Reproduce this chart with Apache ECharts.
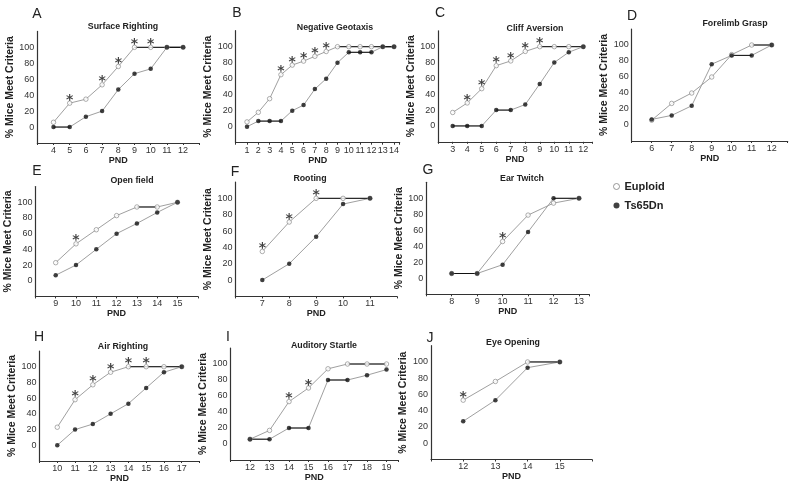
<!DOCTYPE html>
<html>
<head>
<meta charset="utf-8">
<script src="https://cdn.jsdelivr.net/npm/echarts@6/dist/echarts.min.js"></script>
<style>
body { margin: 0; background: #fff; }
#main { width: 800px; height: 489px; }
</style>
</head>
<body>
<div id="main"></div>
<script>
// 数据 (PND, % mice meeting criteria)
var aDays = [4, 5, 6, 7, 8, 9, 10, 11, 12];
var aEuploid = [6, 30, 35, 53, 76, 100, 100, 100, 100];
var aTs65Dn = [0, 0, 13, 20, 47, 67, 73, 100, 100];
var aStars = [5, 7, 8, 9, 10];

var bDays = [1, 2, 3, 4, 5, 6, 7, 8, 9, 10, 11, 12, 13, 14];
var bEuploid = [6, 18, 35, 65, 77, 82, 88, 94, 100, 100, 100, 100, 100, 100];
var bTs65Dn = [0, 7, 7, 7, 20, 27, 47, 60, 80, 93, 93, 93, 100, 100];
var bStars = [4, 5, 6, 7, 8];

var cDays = [3, 4, 5, 6, 7, 8, 9, 10, 11, 12];
var cEuploid = [17, 29, 47, 76, 82, 94, 100, 100, 100, 100];
var cTs65Dn = [0, 0, 0, 20, 20, 27, 53, 80, 93, 100];
var cStars = [4, 5, 6, 7, 8, 9];

var dDays = [6, 7, 8, 9, 10, 11, 12];
var dEuploid = [6, 27, 40, 60, 88, 100, 100];
var dTs65Dn = [7, 12, 24, 76, 87, 87, 100];
var dStars = [];

var eDays = [9, 10, 11, 12, 13, 14, 15];
var eEuploid = [23, 47, 65, 83, 94, 94, 100];
var eTs65Dn = [7, 20, 40, 60, 73, 87, 100];
var eStars = [10];

var fDays = [7, 8, 9, 10, 11];
var fEuploid = [35, 71, 100, 100, 100];
var fTs65Dn = [0, 20, 53, 93, 100];
var fStars = [7, 8, 9];

var gDays = [8, 9, 10, 11, 12, 13];
var gEuploid = [6, 6, 46, 79, 94, 100];
var gTs65Dn = [6, 6, 17, 58, 100, 100];
var gStars = [10];

var hDays = [10, 11, 12, 13, 14, 15, 16, 17];
var hEuploid = [23, 58, 77, 93, 100, 100, 100, 100];
var hTs65Dn = [0, 20, 27, 40, 53, 73, 93, 100];
var hStars = [11, 12, 13, 14, 15];

var iDays = [12, 13, 14, 15, 16, 17, 18, 19];
var iEuploid = [6, 17, 53, 70, 94, 100, 100, 100];
var iTs65Dn = [6, 6, 20, 20, 80, 80, 86, 93];
var iStars = [14, 15];

var jDays = [12, 13, 14, 15];
var jEuploid = [53, 76, 100, 100];
var jTs65Dn = [27, 53, 93, 100];
var jStars = [12];

var yTicks = [0, 20, 40, 60, 80, 100];

var panels = [
  { tag: 'A', title: 'Surface Righting', days: aDays, eu: aEuploid, ts: aTs65Dn, stars: aStars,
    left: 37.3, top: 31.4, width: 162, height: 111.6, xMin: 3, xMax: 13, tx: 123, ty: 27, lx: 37, ly: 14 },
  { tag: 'B', title: 'Negative Geotaxis', days: bDays, eu: bEuploid, ts: bTs65Dn, stars: bStars,
    left: 235.7, top: 30.7, width: 164, height: 112, xMin: 0, xMax: 14.5, tx: 335, ty: 28, lx: 237, ly: 13 },
  { tag: 'C', title: 'Cliff Aversion', days: cDays, eu: cEuploid, ts: cTs65Dn, stars: cStars,
    left: 438.2, top: 30.8, width: 153.8, height: 111, xMin: 2, xMax: 12.6, tx: 535, ty: 29, lx: 440, ly: 13 },
  { tag: 'D', title: 'Forelimb Grasp', days: dDays, eu: dEuploid, ts: dTs65Dn, stars: dStars,
    left: 631.7, top: 29, width: 156, height: 112, xMin: 5, xMax: 12.8, tx: 735, ty: 24, lx: 632, ly: 16 },
  { tag: 'E', title: 'Open field', days: eDays, eu: eEuploid, ts: eTs65Dn, stars: eStars,
    left: 35.4, top: 186.6, width: 162.4, height: 109.8, xMin: 8, xMax: 16, tx: 132, ty: 181, lx: 37, ly: 171 },
  { tag: 'F', title: 'Rooting', days: fDays, eu: fEuploid, ts: fTs65Dn, stars: fStars,
    left: 235.4, top: 182, width: 161.5, height: 114.4, xMin: 6, xMax: 12, tx: 310, ty: 179, lx: 235, ly: 172 },
  { tag: 'G', title: 'Ear Twitch', days: gDays, eu: gEuploid, ts: gTs65Dn, stars: gStars,
    left: 426.2, top: 182.3, width: 163, height: 112, xMin: 7, xMax: 13.4, tx: 522, ty: 179, lx: 428, ly: 170 },
  { tag: 'H', title: 'Air Righting', days: hDays, eu: hEuploid, ts: hTs65Dn, stars: hStars,
    left: 39.5, top: 351, width: 160, height: 110, xMin: 9, xMax: 18, tx: 123, ty: 347, lx: 39, ly: 337 },
  { tag: 'I', title: 'Auditory Startle', days: iDays, eu: iEuploid, ts: iTs65Dn, stars: iStars,
    left: 230.5, top: 348, width: 167.7, height: 112, xMin: 11, xMax: 19.6, tx: 324, ty: 346, lx: 228, ly: 337 },
  { tag: 'J', title: 'Eye Opening', days: jDays, eu: jEuploid, ts: jTs65Dn, stars: jStars,
    left: 431, top: 345.7, width: 161, height: 113.8, xMin: 11, xMax: 16, tx: 513, ty: 343, lx: 430, ly: 338 }
];

var FONT = 'Liberation Sans';

// 把两组数据合成 [x, y]
function pairs(days, vals) {
  return days.map(function (d, i) { return [d, vals[i]]; });
}

// 水平线段（相邻两天数值相同）用黑色画
function flatSegments(days, vals) {
  var out = [];
  for (var i = 0; i < vals.length - 1; i++) {
    if (vals[i] === vals[i + 1]) {
      out.push([days[i], vals[i]], [days[i + 1], vals[i + 1]], [days[i + 1], '-']);
    }
  }
  return out;
}

var grids = [], xAxes = [], yAxes = [], series = [], graphics = [];

panels.forEach(function (p, k) {
  grids.push({ left: p.left, top: p.top, width: p.width, height: p.height });
  var first = p.days[0], last = p.days[p.days.length - 1];
  xAxes.push({
    gridIndex: k, type: 'value', min: p.xMin, max: p.xMax, interval: 1,
    name: 'PND', nameLocation: 'middle', nameGap: 12,
    nameTextStyle: { fontFamily: FONT, fontWeight: 'bold', fontSize: 9, color: '#222' },
    axisLine: { onZero: false, lineStyle: { color: '#333', width: 1.2 } },
    axisTick: { show: true, length: 2, lineStyle: { color: '#333' } },
    axisLabel: {
      margin: 3, fontFamily: FONT, fontSize: 9, color: '#333',
      formatter: function (v) { return (v >= first && v <= last && v % 1 === 0) ? v : ''; }
    },
    splitLine: { show: false }
  });
  yAxes.push({
    gridIndex: k, type: 'value', min: -20, max: 120, interval: 20,
    name: '% Mice Meet Criteria', nameLocation: 'middle', nameGap: 17, nameRotate: 90,
    nameTextStyle: { fontFamily: FONT, fontWeight: 'bold', fontSize: 10.5, color: '#222' },
    axisLine: { show: true, onZero: false, lineStyle: { color: '#333', width: 1.2 } },
    axisTick: { show: false },
    axisLabel: {
      margin: 3, fontFamily: FONT, fontSize: 9, color: '#333',
      formatter: function (v) { return yTicks.indexOf(v) >= 0 ? v : ''; }
    },
    splitLine: { show: false }
  });

  // 灰色连线
  [p.eu, p.ts].forEach(function (vals) {
    series.push({
      type: 'line', xAxisIndex: k, yAxisIndex: k, data: pairs(p.days, vals),
      showSymbol: false, silent: true, z: 2,
      lineStyle: { color: '#a0a0a0', width: 1 }
    });
  });
  // 黑色水平段
  [p.eu, p.ts].forEach(function (vals) {
    series.push({
      type: 'line', xAxisIndex: k, yAxisIndex: k, data: flatSegments(p.days, vals),
      showSymbol: false, silent: true, connectNulls: false, z: 3,
      lineStyle: { color: '#111', width: 1 }
    });
  });
  series.push({
    name: 'Euploid', type: 'scatter', xAxisIndex: k, yAxisIndex: k,
    data: pairs(p.days, p.eu), symbol: 'circle', symbolSize: 4.5, z: 4,
    itemStyle: { color: '#fff', borderColor: '#808080', borderWidth: 0.8 }
  });
  series.push({
    name: 'Ts65Dn', type: 'scatter', xAxisIndex: k, yAxisIndex: k,
    data: pairs(p.days, p.ts), symbol: 'circle', symbolSize: 4.5, z: 5,
    itemStyle: { color: '#111' }
  });
  // 星号
  series.push({
    type: 'scatter', xAxisIndex: k, yAxisIndex: k, silent: true, z: 6,
    data: p.stars.map(function (d) { return [d, p.eu[p.days.indexOf(d)]]; }),
    symbolSize: 1, itemStyle: { color: 'rgba(0,0,0,0)' },
    label: {
      show: true, position: 'inside', offset: [0, -3], formatter: '*',
      fontFamily: 'DejaVu Sans', fontWeight: 'bold', fontSize: 14, color: '#111'
    }
  });

  graphics.push({
    type: 'text', x: p.tx, y: p.ty,
    style: { text: p.title, font: 'bold 8.8px "' + FONT + '"', fill: '#222', textAlign: 'center', textVerticalAlign: 'middle' }
  });
  graphics.push({
    type: 'text', x: p.lx, y: p.ly,
    style: { text: p.tag, font: '14px "' + FONT + '"', fill: '#222', textAlign: 'center', textVerticalAlign: 'middle' }
  });
});

var myChart = echarts.init(document.getElementById('main'));
var option = {
  animation: false,
  backgroundColor: '#fff',
  grid: grids,
  xAxis: xAxes,
  yAxis: yAxes,
  legend: {
    orient: 'vertical', left: 608, top: 176, itemWidth: 6, itemHeight: 6, itemGap: 8,
    selectedMode: false,
    textStyle: { fontFamily: FONT, fontWeight: 'bold', fontSize: 11, color: '#222' },
    data: [
      { name: 'Euploid', icon: 'circle', itemStyle: { color: '#fff', borderColor: '#808080', borderWidth: 1 } },
      { name: 'Ts65Dn', icon: 'circle', itemStyle: { color: '#111' } }
    ]
  },
  graphic: graphics,
  series: series
};
myChart.setOption(option);
</script>
</body>
</html>
